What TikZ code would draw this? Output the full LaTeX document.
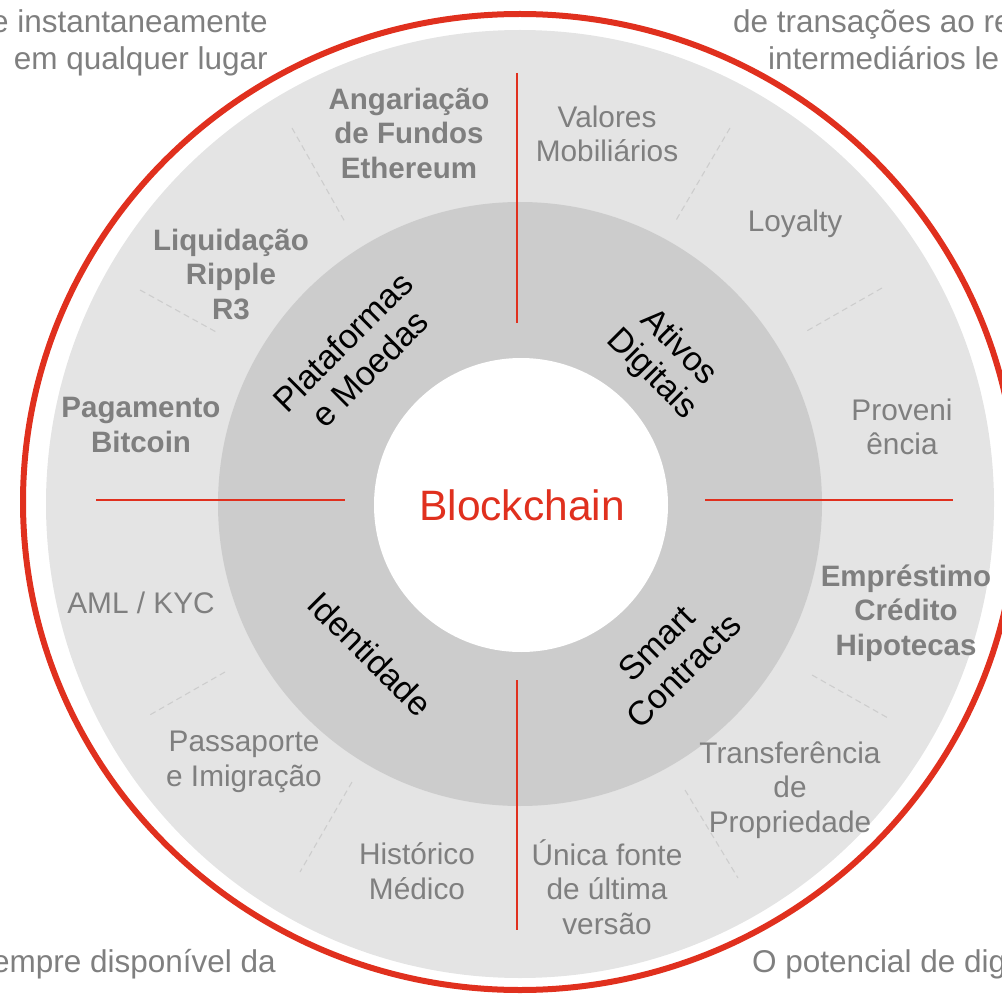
\documentclass[tikz,border=0pt]{standalone}
\usepackage{fontspec}
\setmainfont{Liberation Sans}
\usetikzlibrary{calc}
\definecolor{pwcred}{HTML}{E0301E}
\definecolor{lightring}{HTML}{E4E4E4}
\definecolor{midring}{HTML}{CCCCCC}
\definecolor{labelgray}{HTML}{7F7F7F}
\definecolor{dashgray}{HTML}{CDCDCD}
\begin{document}
\begin{tikzpicture}[x=1pt,y=-1pt,
  item/.style={text=labelgray, font=\fontsize{29.8}{34.5}\selectfont, align=center, inner sep=0pt},
  bolditem/.style={text=labelgray, font=\fontsize{29.5}{34.5}\selectfont\bfseries, align=center, inner sep=0pt},
  outer/.style={text=labelgray, font=\fontsize{31.5}{37}\selectfont, inner sep=0pt},
  cat/.style={font=\fontsize{34}{38}\selectfont, align=center, inner sep=0pt, text=black},
  redline/.style={draw=pwcred, line width=2.2pt},
  dashline/.style={draw=dashgray, line width=1.1pt, dash pattern=on 6pt off 4pt}
]
\useasboundingbox (0,0) rectangle (1002,995);
\coordinate (c) at (520,504);
% rings
\fill[lightring] (c) circle [radius=474];
\fill[midring] (c) circle [radius=302];
\fill[white] (521,505) circle [radius=147];
\draw[pwcred, line width=6pt] (520,502) ellipse [x radius=497, y radius=488];
% red quadrant lines
\coordinate (rt1) at (517,73);  \coordinate (rt2) at (517,323);
\coordinate (rb1) at (517,680); \coordinate (rb2) at (517,930);
\coordinate (rl1) at (96,500);  \coordinate (rl2) at (345,500);
\coordinate (rr1) at (705,500); \coordinate (rr2) at (953,500);
\draw[redline] (rt1) -- (rt2);
\draw[redline] (rb1) -- (rb2);
\draw[redline] (rl1) -- (rl2);
\draw[redline] (rr1) -- (rr2);
% dashed separators
\draw[dashline] (292,128) -- (345,222);
\draw[dashline] (140,290) -- (218,333);
\draw[dashline] (730,128) -- (675,222);
\draw[dashline] (882,288) -- (805,332);
\draw[dashline] (812,675) -- (888,718);
\draw[dashline] (685,790) -- (738,878);
\draw[dashline] (225,672) -- (148,716);
\draw[dashline] (352,782) -- (300,872);
% centre
\node[text=pwcred, font=\fontsize{42.5}{46}\selectfont, inner sep=0pt] (bc) at (522,505) {Blockchain};
% categories
\node[cat, rotate=45] (plat) at (356,355) {Plataformas\\e Moedas};
\node[cat, rotate=-45] (ativ) at (665,361) {Ativos\\Digitais};
\node[cat, rotate=-45] (iden) at (370,654) {Identidade};
\node[cat, rotate=45] (smart) at (670,657) {Smart\\Contracts};
% bold items
\node[bolditem] (ang) at (409,133) {Angariação\\de Fundos\\Ethereum};
\node[bolditem] (liq) at (231,274) {Liquidação\\Ripple\\R3};
\node[bolditem] (pag) at (141,425) {Pagamento\\Bitcoin};
\node[bolditem] (emp) at (906,613) {Empréstimo\\Crédito\\Hipotecas};
% normal items
\node[item] (val) at (607,134) {Valores\\Mobiliários};
\node[item] (loy) at (795,224) {Loyalty};
\node[item] (prov) at (902,427) {Proveni\\ência};
\node[item] (trans) at (790,790) {Transferência\\de\\Propriedade};
\node[item] (unica) at (607,887) {Única fonte\\de última\\versão};
\node[item] (hist) at (417,871) {Histórico\\Médico};
\node[item] (pass) at (244,762) {Passaporte\\e Imigração};
\node[item] (aml) at (141,603) {AML / KYC};
% outer texts (cut by page edges)
\node[outer, anchor=base east] (tl1) at (268,33) {e instantaneamente};
\node[outer, anchor=base east] (tl2) at (268,70) {em qualquer lugar};
\node[outer, anchor=base west] (tr1) at (733,33) {de transações ao re};
\node[outer, anchor=base west] (tr2) at (768,70) {intermediários le};
\node[outer, anchor=base east] (bl1) at (276,972) {empre disponível da};
\node[outer, anchor=base west] (br1) at (752,972) {O potencial de dig};
\end{tikzpicture}
\end{document}
